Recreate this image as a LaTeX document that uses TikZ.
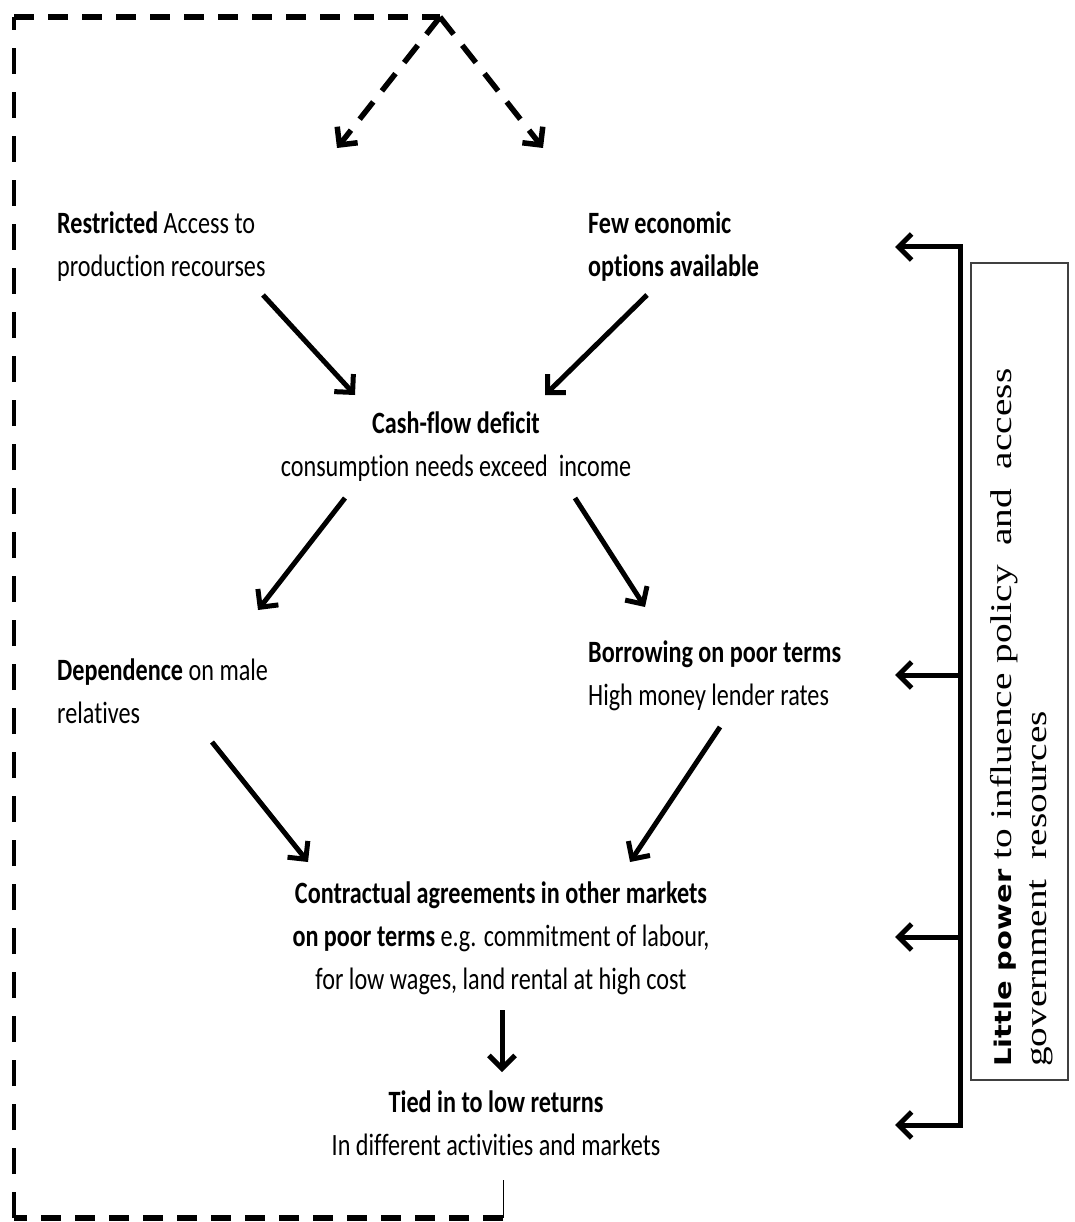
\documentclass[tikz,border=0pt]{standalone}
\usepackage{fontspec}
\setmainfont{Carlito}[FakeStretch=0.78, Ligatures=NoCommon]
\newfontfamily\boxserif{Liberation Serif}[FakeStretch=1.31]
\newfontfamily\boxsans{DejaVu Sans}[FakeStretch=1.26]
\usetikzlibrary{arrows.meta,calc}

\begin{document}
\begin{tikzpicture}[x=1pt,y=-1pt,
  lbl/.style={inner sep=0pt, font=\fontsize{31}{43}\selectfont, text=black},
  arr/.style={line width=5pt, -{Straight Barb[length=13pt,width=26pt]}},
  loopdash/.style={line width=6pt, dash pattern=on 20pt off 14pt},
  loopdashv/.style={line width=4.5pt, dash pattern=on 26pt off 18pt},
  loopdasharr/.style={line width=5.5pt, dash pattern=on 22pt off 14pt,
    -{Straight Barb[length=13pt,width=26pt]}},
]
\useasboundingbox (0,0) rectangle (1074,1222);

% causal chain
\node[lbl, anchor=west, align=left] (restr) at (57,246.5)
  {\textbf{Restricted} Access to\\production recourses};
\node[lbl, anchor=west, align=left] (few) at (588,246.5)
  {\textbf{Few economic}\\\textbf{options available}};
\node[lbl, align=center] (cash) at (456,446.5)
  {\textbf{Cash-flow deficit}\\consumption needs exceed\ \ income};
\node[lbl, anchor=west, align=left] (dep) at (57,691)
  {\textbf{Dependence} on male\\relatives};
\node[lbl, anchor=west, align=left] (borr) at (588,676)
  {\textbf{Borrowing on poor terms}\\High money lender rates};
\node[lbl, align=center] (contr) at (501,938)
  {\textbf{Contractual agreements in other markets}\\
   \textbf{on poor terms} e.g. commitment of labour,\\
   for low wages, land rental at high cost};
\node[lbl, align=center] (tied) at (496,1123)
  {\textbf{Tied in to low returns}\\In different activities and markets};

\draw[arr] ($(restr.west)+(206,48.5)$) -- ($(restr.west)+(298,148.5)$);
\draw[arr] ($(few.west)+(59,48.5)$) -- ($(few.west)+(-43,148.5)$);
\draw[arr] ($(cash)+(-111,51.5)$) -- ($(cash)+(-198,163.5)$);
\draw[arr] ($(cash)+(119,51.5)$) -- ($(cash)+(189,160.5)$);
\draw[arr] ($(dep.west)+(155,51)$) -- ($(dep.west)+(251,171)$);
\draw[arr] ($(borr.west)+(132,51)$) -- ($(borr.west)+(42,186)$);
\draw[arr] ($(contr)+(1,72)$) -- ($(contr)+(1,134)$);

% feedback loop back to the top
\coordinate (loopA) at ($(tied)+(7,57)$);
\coordinate (loopB) at ($(tied)+(7,95)$);
\coordinate (cBL) at (14,1218);
\coordinate (cTL) at (14,17);
\coordinate (apex) at (440,17);
\draw[line width=1pt] (loopA) -- (loopB);
\draw[loopdash] (loopB) -- (cBL);
\draw[loopdashv] (cBL) -- (cTL);
\draw[loopdash] (cTL) -- (apex);
\draw[loopdasharr] (apex) -- ($(restr.west)+(280,-98.5)$);
\draw[loopdasharr] (apex) -- ($(few.west)+(-45,-98.5)$);

% bracket on the right
\coordinate (br1) at (960,247);
\coordinate (br2) at (960,675);
\coordinate (br3) at (960,937);
\coordinate (br4) at (960,1125);
\coordinate (tp1) at (895,247);
\coordinate (tp2) at (895,675);
\coordinate (tp3) at (895,937);
\coordinate (tp4) at (895,1125);
\draw[line width=5pt, line cap=rect] (br1) -- (br4);
\draw[arr] (br1) -- (tp1);
\draw[arr] (br2) -- (tp2);
\draw[arr] (br3) -- (tp3);
\draw[arr] (br4) -- (tp4);

\node[draw=black!75, line width=1.2pt, minimum width=97pt, minimum height=817pt,
  inner sep=0pt] (pbox) at (1019.5,671.5) {};
\node[rotate=90, anchor=north west, inner sep=0pt, align=left, text=black,
  font=\boxserif\fontsize{30}{35}\selectfont] (ptext) at (990,1067)
  {{\boxsans\bfseries\fontsize{23}{35}\selectfont Little power} to influence policy\ \ and\ \ access\\
   government\ \ resources};
\end{tikzpicture}
\end{document}
